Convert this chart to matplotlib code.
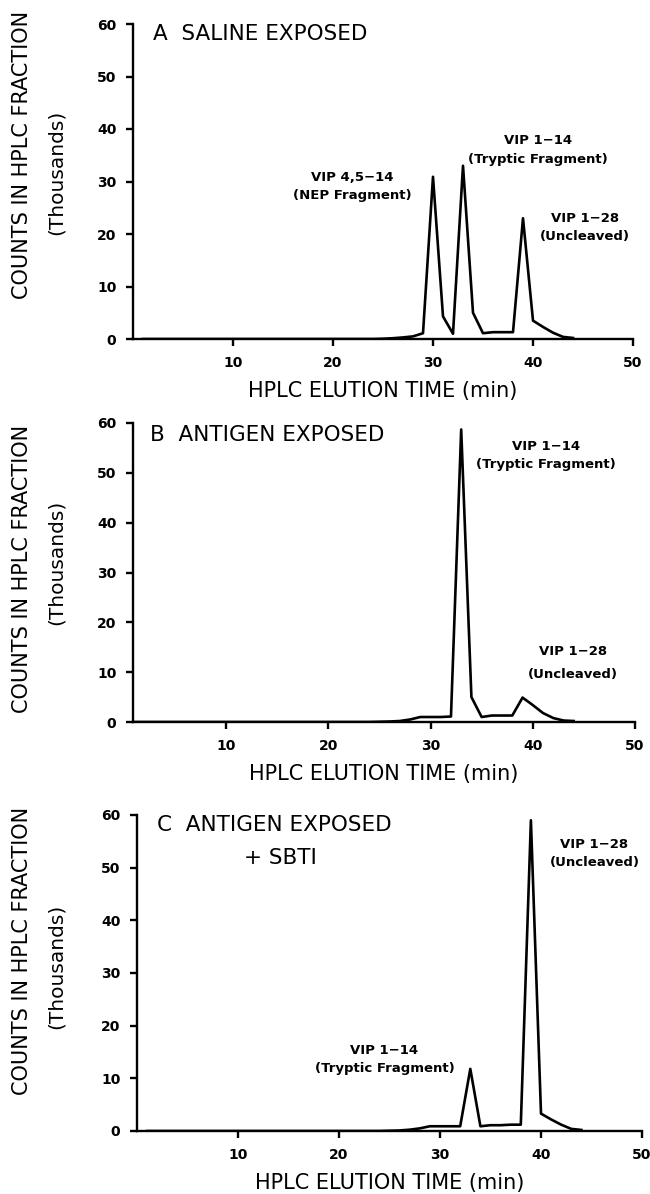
import matplotlib
matplotlib.use("Agg")
import matplotlib.pyplot as plt

plt.rcParams['font.family'] = ['DejaVu Sans']

# elution time (min) of the HPLC fractions
time = [1, 24, 25, 26, 27, 28, 29, 30, 31, 32, 33, 34, 35, 36, 37, 38, 39, 40, 41, 42, 43, 44]

# counts in thousands
saline = [0, 0, 0.05, 0.15, 0.3, 0.5, 1.1, 30.9, 4.3, 1.0, 33.0, 5.0, 1.1, 1.3, 1.3, 1.3, 23.0, 3.5, 2.3, 1.2, 0.4, 0.2]
antigen = [0, 0, 0.05, 0.1, 0.2, 0.5, 1.0, 1.0, 1.0, 1.1, 58.7, 5.0, 1.0, 1.3, 1.3, 1.3, 4.9, 3.4, 1.8, 0.8, 0.3, 0.2]
antigen_sbti = [0, 0, 0.05, 0.1, 0.25, 0.5, 0.9, 0.9, 0.9, 0.9, 11.8, 0.9, 1.1, 1.1, 1.2, 1.2, 59.0, 3.3, 2.2, 1.2, 0.4, 0.2]

xticks = [10, 20, 30, 40, 50]
yticks = [0, 10, 20, 30, 40, 50, 60]

W, H = 650, 1194
fig = plt.figure(figsize=(6.5, 11.94), dpi=100)


def px_axes(left, right, top, bottom):
    return fig.add_axes([left / W, 1 - bottom / H, (right - left) / W, (bottom - top) / H])


def style(ax, xmin):
    ax.set_xlim(xmin, 50)
    ax.set_ylim(0, 60)
    ax.set_xticks(xticks)
    ax.set_yticks(yticks)
    for s in ['top', 'right']:
        ax.spines[s].set_visible(False)
    for s in ['left', 'bottom']:
        ax.spines[s].set_linewidth(1.7)
    ax.tick_params(direction='out', length=5, width=1.7, labelsize=10, pad=7)
    for lab in ax.get_xticklabels() + ax.get_yticklabels():
        lab.set_fontweight('bold')
    ax.set_xlabel('HPLC ELUTION TIME (min)', fontsize=15, labelpad=8)


def ylab(c1, c2):
    fig.text(22 / W, 1 - c1 / H, 'COUNTS IN HPLC FRACTION', rotation=90, fontsize=15,
             ha='center', va='center')
    fig.text(56 / W, 1 - c2 / H, '(Thousands)', rotation=90, fontsize=14.5,
             ha='center', va='center')


ann = dict(fontsize=9.5, fontweight='bold', ha='center', va='center', linespacing=1.5)

# panel A
axA = px_axes(133, 633, 24, 339)
axA.plot(time, saline, color='black', lw=1.9)
style(axA, 0)
axA.text(2, 58.1, 'A  SALINE EXPOSED', fontsize=15.5, va='center')
axA.text(21.9, 29, 'VIP 4,5\u221214\n(NEP Fragment)', **ann)
axA.text(40.5, 36, 'VIP 1\u221214\n(Tryptic Fragment)', **ann)
axA.text(45.2, 21.2, 'VIP 1\u221228\n(Uncleaved)', **ann)
ylab(155, 172)

# panel B
axB = px_axes(133, 635, 423, 722)
axB.plot(time, antigen, color='black', lw=1.9)
style(axB, 0.9)
axB.text(2.6, 57.6, 'B  ANTIGEN EXPOSED', fontsize=15.5, va='center')
axB.text(41.3, 53.4, 'VIP 1\u221214\n(Tryptic Fragment)', **ann)
axB.text(43.9, 11.9, 'VIP 1\u221228\n(Uncleaved)', fontsize=9.5, fontweight='bold',
         ha='center', va='center', linespacing=2.0)
ylab(569, 562)

# panel C
axC = px_axes(137, 642, 815, 1131)
axC.plot(time, antigen_sbti, color='black', lw=1.9)
style(axC, 0)
axC.text(2, 58.1, 'C  ANTIGEN EXPOSED', fontsize=15.5, va='center')
axC.text(10.6, 51.8, '+ SBTI', fontsize=15.5, va='center')
axC.text(24.5, 13.5, 'VIP 1\u221214\n(Tryptic Fragment)', **ann)
axC.text(45.3, 52.7, 'VIP 1\u221228\n(Uncleaved)', **ann)
ylab(951, 966)

fig.savefig('out.png', dpi=100)
